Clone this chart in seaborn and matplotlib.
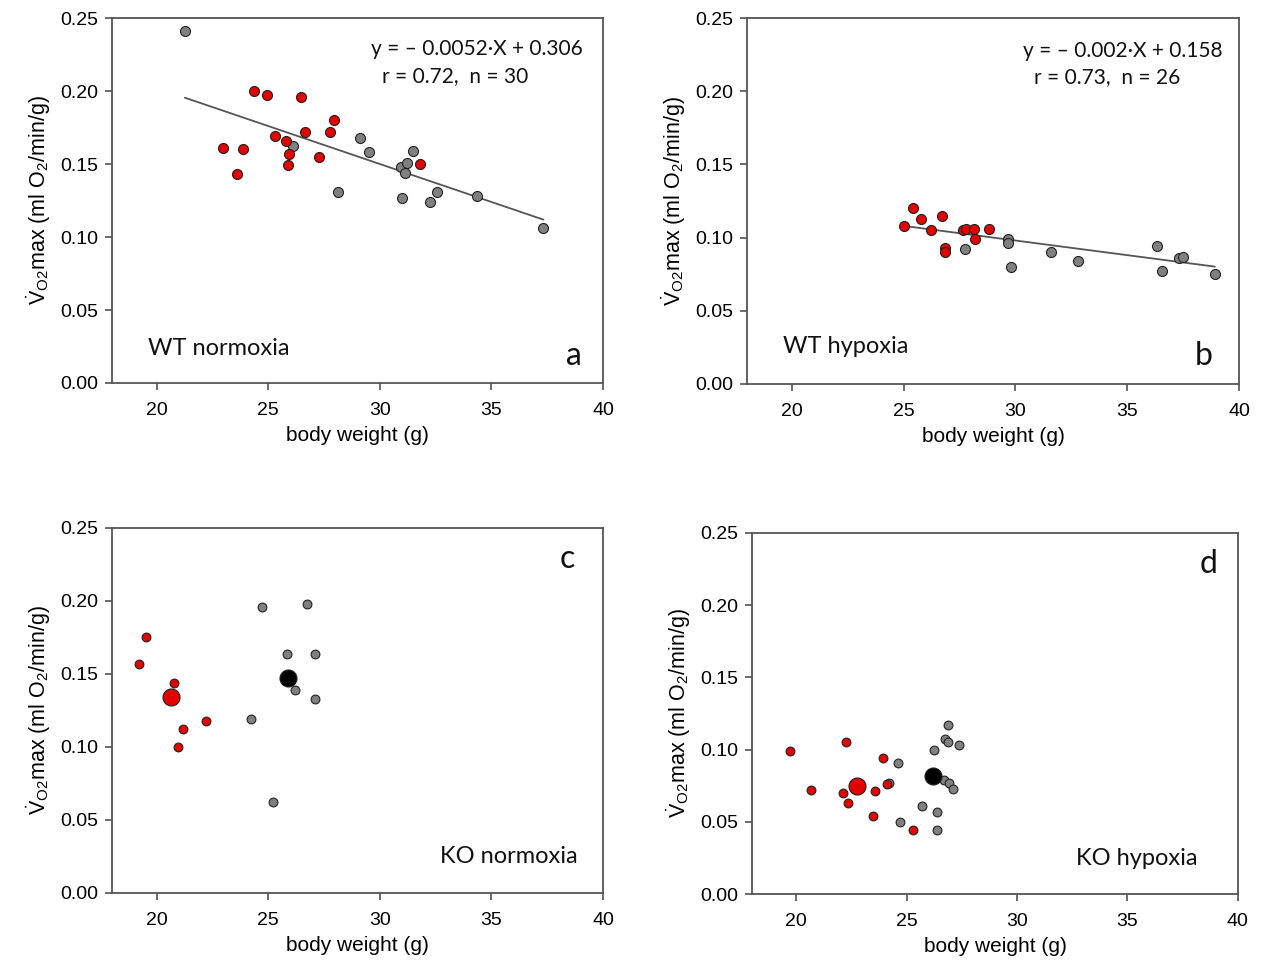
import numpy as np
import pandas as pd
import matplotlib
matplotlib.use('Agg')
import matplotlib.pyplot as plt
import seaborn as sns

# panel a: WT normoxia
a_red_x = [24.36, 24.95, 26.45, 27.93, 26.63, 27.75, 25.30, 25.78, 22.97, 23.88, 25.92, 27.29, 25.87, 23.60, 31.80]
a_red_y = [0.200, 0.197, 0.196, 0.180, 0.172, 0.172, 0.169, 0.166, 0.161, 0.160, 0.157, 0.155, 0.149, 0.143, 0.150]
a_gray_x = [21.26, 26.10, 29.10, 29.50, 28.14, 30.96, 31.20, 31.14, 31.49, 30.98, 32.58, 32.25, 34.37, 37.33]
a_gray_y = [0.241, 0.162, 0.168, 0.158, 0.131, 0.148, 0.151, 0.144, 0.159, 0.127, 0.131, 0.124, 0.128, 0.106]

# panel b: WT hypoxia
b_red_x = [25.01, 25.40, 25.80, 26.24, 26.70, 26.83, 26.86, 27.65, 27.80, 28.14, 28.19, 28.81]
b_red_y = [0.108, 0.120, 0.113, 0.105, 0.115, 0.093, 0.090, 0.105, 0.106, 0.106, 0.099, 0.106]
b_gray_x = [27.74, 29.68, 29.68, 29.79, 31.61, 32.82, 36.32, 36.57, 37.33, 37.51, 38.92]
b_gray_y = [0.092, 0.099, 0.096, 0.080, 0.090, 0.084, 0.094, 0.077, 0.086, 0.087, 0.075]

# panel c: KO normoxia
c_red_x = [19.52, 19.22, 20.78, 22.21, 21.19, 20.96]
c_red_y = [0.175, 0.157, 0.144, 0.118, 0.112, 0.100]
c_gray_x = [24.70, 26.73, 25.84, 27.10, 26.19, 27.10, 24.24, 25.21]
c_gray_y = [0.196, 0.198, 0.164, 0.164, 0.139, 0.133, 0.119, 0.062]
c_mean_red = (20.63, 0.134)
c_mean_gray = (25.90, 0.147)

# panel d: KO hypoxia
d_red_x = [19.70, 20.68, 22.25, 22.14, 22.34, 23.59, 23.50, 23.94, 24.10, 25.29]
d_red_y = [0.099, 0.072, 0.105, 0.070, 0.063, 0.071, 0.054, 0.094, 0.076, 0.044]
d_gray_x = [24.22, 24.60, 24.71, 25.69, 26.24, 26.39, 26.39, 26.67, 26.74, 26.88, 26.89, 26.92, 27.10, 27.36]
d_gray_y = [0.077, 0.091, 0.050, 0.061, 0.100, 0.057, 0.044, 0.079, 0.107, 0.117, 0.105, 0.077, 0.073, 0.103]
d_mean_red = (22.75, 0.075)
d_mean_gray = (26.20, 0.082)

# regression lines (slope, intercept)
fit_a = (-0.0052, 0.306)
fit_b = (-0.002, 0.158)

RED = '#e30000'
GRAY = '#808080'

sns.set_style('ticks')
plt.rcParams['font.family'] = ['Liberation Sans', 'DejaVu Sans']
plt.rcParams['mathtext.fontset'] = 'custom'
plt.rcParams['mathtext.rm'] = 'Liberation Sans'
plt.rcParams['mathtext.it'] = 'Liberation Sans:italic'
plt.rcParams['mathtext.bf'] = 'Liberation Sans:bold'
plt.rcParams['text.color'] = 'black'
plt.rcParams['axes.labelcolor'] = 'black'
plt.rcParams['xtick.labelcolor'] = 'black'
plt.rcParams['ytick.labelcolor'] = 'black'

fig = plt.figure(figsize=(12.82, 9.64), dpi=100)
axes = [
    fig.add_axes([0.0874, 0.6027, 0.383, 0.3786]),
    fig.add_axes([0.5827, 0.6017, 0.3838, 0.3796]),
    fig.add_axes([0.0874, 0.0737, 0.383, 0.3786]),
    fig.add_axes([0.5866, 0.0726, 0.379, 0.3745]),
]

ylab = r'$\dot{\mathrm{V}}_{\mathrm{O2}}$max (ml O$_2$/min/g)'
ann = dict(family=['Lato', 'DejaVu Sans'], color='#111111')


def points(ax, xs, ys, color, size):
    df = pd.DataFrame({'x': xs, 'y': ys})
    sns.scatterplot(data=df, x='x', y='y', ax=ax, color=color, s=size,
                    edgecolor='#222222', linewidth=0.8, zorder=3)


def fit_line(ax, xs, fit):
    xx = np.array([min(xs), max(xs)])
    sns.lineplot(x=xx, y=fit[0] * xx + fit[1], ax=ax, color='#555555', lw=1.3, zorder=2)


# a
ax = axes[0]
fit_line(ax, a_red_x + a_gray_x, fit_a)
points(ax, a_gray_x, a_gray_y, GRAY, 52)
points(ax, a_red_x, a_red_y, RED, 52)
ax.text(0.527, 0.899, 'y = \u2013 0.0052\u00b7X + 0.306', transform=ax.transAxes, fontsize=15, **ann)
ax.text(0.55, 0.825, 'r = 0.72,  n = 30', transform=ax.transAxes, fontsize=15, **ann)
ax.text(0.073, 0.077, 'WT normoxia', transform=ax.transAxes, fontsize=17, **ann)
ax.text(0.957, 0.049, 'a', transform=ax.transAxes, fontsize=23, ha='right', **ann)

# b
ax = axes[1]
fit_line(ax, b_red_x + b_gray_x, fit_b)
points(ax, b_gray_x, b_gray_y, GRAY, 52)
points(ax, b_red_x, b_red_y, RED, 52)
ax.text(0.561, 0.893, 'y = \u2013 0.002\u00b7X + 0.158', transform=ax.transAxes, fontsize=15, **ann)
ax.text(0.583, 0.822, 'r = 0.73,  n = 26', transform=ax.transAxes, fontsize=15, **ann)
ax.text(0.073, 0.085, 'WT hypoxia', transform=ax.transAxes, fontsize=17, **ann)
ax.text(0.947, 0.052, 'b', transform=ax.transAxes, fontsize=23, ha='right', **ann)

# c
ax = axes[2]
points(ax, c_gray_x, c_gray_y, GRAY, 40)
points(ax, c_red_x, c_red_y, RED, 40)
points(ax, [c_mean_red[0]], [c_mean_red[1]], RED, 150)
points(ax, [c_mean_gray[0]], [c_mean_gray[1]], 'black', 150)
ax.text(0.943, 0.89, 'c', transform=ax.transAxes, fontsize=23, ha='right', **ann)
ax.text(0.949, 0.082, 'KO normoxia', transform=ax.transAxes, fontsize=17, ha='right', **ann)

# d
ax = axes[3]
points(ax, d_gray_x, d_gray_y, GRAY, 40)
points(ax, d_red_x, d_red_y, RED, 40)
points(ax, [d_mean_red[0]], [d_mean_red[1]], RED, 150)
points(ax, [d_mean_gray[0]], [d_mean_gray[1]], 'black', 150)
ax.text(0.959, 0.889, 'd', transform=ax.transAxes, fontsize=23, ha='right', **ann)
ax.text(0.916, 0.080, 'KO hypoxia', transform=ax.transAxes, fontsize=17, ha='right', **ann)

for ax in axes:
    ax.set_xlim(18, 40)
    ax.set_ylim(0, 0.25)
    ax.set_xticks([20, 25, 30, 35, 40])
    ax.set_yticks(np.arange(0, 0.26, 0.05))
    ax.set_yticklabels([f'{v:.2f}' for v in np.arange(0, 0.26, 0.05)])
    ax.tick_params(labelsize=14, length=5, width=1.1, color='#444444', direction='out')
    ax.tick_params(axis='x', pad=9)
    ax.tick_params(axis='y', pad=5)
    for sp in ax.spines.values():
        sp.set_visible(True)
        sp.set_color('#555555')
        sp.set_linewidth(1.3)
    ax.set_xlabel('body weight (g)', fontsize=15, labelpad=5)
    ax.set_ylabel(ylab, fontsize=15.5, labelpad=5)
    if ax.get_legend():
        ax.get_legend().remove()

fig.savefig('out.png', dpi=100)
